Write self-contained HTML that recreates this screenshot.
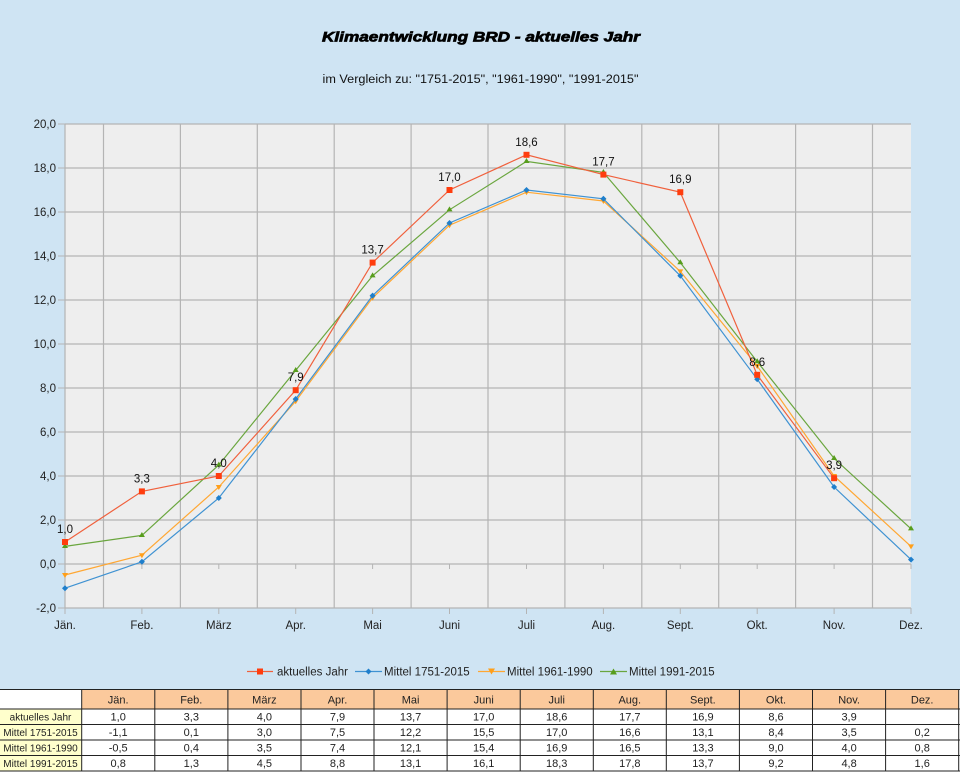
<!DOCTYPE html>
<html><head><meta charset="utf-8"><style>
html,body{margin:0;padding:0;background:#cfe4f3;}
svg{display:block;font-family:"Liberation Sans",Arial,sans-serif;}
</style></head><body>
<svg width="960" height="772" viewBox="0 0 960 772" xmlns="http://www.w3.org/2000/svg">
<rect x="0" y="0" width="960" height="772" fill="#cfe4f3"/>
<text x="481" y="41.5" font-size="13.5" font-weight="bold" font-style="italic" text-anchor="middle" textLength="318" lengthAdjust="spacingAndGlyphs" fill="#000" stroke="#000" stroke-width="0.7">Klimaentwicklung BRD - aktuelles Jahr</text>
<text x="480.5" y="83" font-size="11.5" text-anchor="middle" textLength="316" lengthAdjust="spacingAndGlyphs" fill="#111">im Vergleich zu: "1751-2015", "1961-1990", "1991-2015"</text>
<rect x="65" y="124" width="846" height="484" fill="#eeeeee"/>
<g stroke="#b4b4b4" stroke-width="1.2">
<line x1="65" y1="124" x2="911" y2="124"/><line x1="65" y1="168" x2="911" y2="168"/><line x1="65" y1="212" x2="911" y2="212"/><line x1="65" y1="256" x2="911" y2="256"/><line x1="65" y1="300" x2="911" y2="300"/><line x1="65" y1="344" x2="911" y2="344"/><line x1="65" y1="388" x2="911" y2="388"/><line x1="65" y1="432" x2="911" y2="432"/><line x1="65" y1="476" x2="911" y2="476"/><line x1="65" y1="520" x2="911" y2="520"/><line x1="65" y1="564" x2="911" y2="564"/><line x1="65" y1="608" x2="911" y2="608"/>
<line x1="103.5" y1="124" x2="103.5" y2="608"/><line x1="180.4" y1="124" x2="180.4" y2="608"/><line x1="257.3" y1="124" x2="257.3" y2="608"/><line x1="334.2" y1="124" x2="334.2" y2="608"/><line x1="411.1" y1="124" x2="411.1" y2="608"/><line x1="488" y1="124" x2="488" y2="608"/><line x1="564.9" y1="124" x2="564.9" y2="608"/><line x1="641.8" y1="124" x2="641.8" y2="608"/><line x1="718.7" y1="124" x2="718.7" y2="608"/><line x1="795.6" y1="124" x2="795.6" y2="608"/><line x1="872.5" y1="124" x2="872.5" y2="608"/>
<line x1="65" y1="124" x2="65" y2="608"/>
</g>
<g stroke="#b4b4b4" stroke-width="1">
<line x1="58" y1="124" x2="65" y2="124"/><line x1="58" y1="168" x2="65" y2="168"/><line x1="58" y1="212" x2="65" y2="212"/><line x1="58" y1="256" x2="65" y2="256"/><line x1="58" y1="300" x2="65" y2="300"/><line x1="58" y1="344" x2="65" y2="344"/><line x1="58" y1="388" x2="65" y2="388"/><line x1="58" y1="432" x2="65" y2="432"/><line x1="58" y1="476" x2="65" y2="476"/><line x1="58" y1="520" x2="65" y2="520"/><line x1="58" y1="564" x2="65" y2="564"/><line x1="58" y1="608" x2="65" y2="608"/>
<line x1="65" y1="608" x2="65" y2="614"/><line x1="141.9" y1="608" x2="141.9" y2="614"/><line x1="218.8" y1="608" x2="218.8" y2="614"/><line x1="295.7" y1="608" x2="295.7" y2="614"/><line x1="372.6" y1="608" x2="372.6" y2="614"/><line x1="449.5" y1="608" x2="449.5" y2="614"/><line x1="526.5" y1="608" x2="526.5" y2="614"/><line x1="603.4" y1="608" x2="603.4" y2="614"/><line x1="680.3" y1="608" x2="680.3" y2="614"/><line x1="757.2" y1="608" x2="757.2" y2="614"/><line x1="834.1" y1="608" x2="834.1" y2="614"/><line x1="911" y1="608" x2="911" y2="614"/>
<line x1="141.9" y1="564" x2="141.9" y2="569"/><line x1="218.8" y1="564" x2="218.8" y2="569"/><line x1="295.7" y1="564" x2="295.7" y2="569"/><line x1="372.6" y1="564" x2="372.6" y2="569"/><line x1="449.5" y1="564" x2="449.5" y2="569"/><line x1="526.5" y1="564" x2="526.5" y2="569"/><line x1="603.4" y1="564" x2="603.4" y2="569"/><line x1="680.3" y1="564" x2="680.3" y2="569"/><line x1="757.2" y1="564" x2="757.2" y2="569"/><line x1="834.1" y1="564" x2="834.1" y2="569"/><line x1="911" y1="564" x2="911" y2="569"/>
</g>
<g font-size="11.5" fill="#222" text-anchor="end">
<text x="56" y="128">20,0</text><text x="56" y="172">18,0</text><text x="56" y="216">16,0</text><text x="56" y="260">14,0</text><text x="56" y="304">12,0</text><text x="56" y="348">10,0</text><text x="56" y="392">8,0</text><text x="56" y="436">6,0</text><text x="56" y="480">4,0</text><text x="56" y="524">2,0</text><text x="56" y="568">0,0</text><text x="56" y="612">-2,0</text>
</g>
<g font-size="11.5" fill="#222" text-anchor="middle">
<text x="65" y="629">Jän.</text><text x="141.9" y="629">Feb.</text><text x="218.8" y="629">März</text><text x="295.7" y="629">Apr.</text><text x="372.6" y="629">Mai</text><text x="449.5" y="629">Juni</text><text x="526.5" y="629">Juli</text><text x="603.4" y="629">Aug.</text><text x="680.3" y="629">Sept.</text><text x="757.2" y="629">Okt.</text><text x="834.1" y="629">Nov.</text><text x="911" y="629">Dez.</text>
</g>
<polyline fill="none" stroke="#6aa63e" stroke-width="1.2" points="65,546.4 141.9,535.4 218.8,465 295.7,370.4 372.6,275.8 449.5,209.8 526.5,161.4 603.4,172.4 680.3,262.6 757.2,361.6 834.1,458.4 911,528.8"/>
<g fill="#579d1c">
<path d="M65,543 l3,5 h-6z"/><path d="M141.9,532 l3,5 h-6z"/><path d="M218.8,461.6 l3,5 h-6z"/><path d="M295.7,367 l3,5 h-6z"/><path d="M372.6,272.4 l3,5 h-6z"/><path d="M449.5,206.4 l3,5 h-6z"/><path d="M526.5,158 l3,5 h-6z"/><path d="M603.4,169 l3,5 h-6z"/><path d="M680.3,259.2 l3,5 h-6z"/><path d="M757.2,358.2 l3,5 h-6z"/><path d="M834.1,455 l3,5 h-6z"/><path d="M911,525.4 l3,5 h-6z"/>
</g>
<polyline fill="none" stroke="#ffa733" stroke-width="1.2" points="65,575 141.9,555.2 218.8,487 295.7,401.2 372.6,297.8 449.5,225.2 526.5,192.2 603.4,201 680.3,271.4 757.2,366 834.1,476 911,546.4"/>
<g fill="#ff9f1a">
<path d="M65,578 l3,-5 h-6z"/><path d="M141.9,558.2 l3,-5 h-6z"/><path d="M218.8,490 l3,-5 h-6z"/><path d="M295.7,404.2 l3,-5 h-6z"/><path d="M372.6,300.8 l3,-5 h-6z"/><path d="M449.5,228.2 l3,-5 h-6z"/><path d="M526.5,195.2 l3,-5 h-6z"/><path d="M603.4,204 l3,-5 h-6z"/><path d="M680.3,274.4 l3,-5 h-6z"/><path d="M757.2,369 l3,-5 h-6z"/><path d="M834.1,479 l3,-5 h-6z"/><path d="M911,549.4 l3,-5 h-6z"/>
</g>
<polyline fill="none" stroke="#3f92d2" stroke-width="1.2" points="65,588.2 141.9,561.8 218.8,498 295.7,399 372.6,295.6 449.5,223 526.5,190 603.4,198.8 680.3,275.8 757.2,379.2 834.1,487 911,559.6"/>
<g fill="#1f7fcc">
<path d="M65,585.2 l3,3 -3,3 -3,-3z"/><path d="M141.9,558.8 l3,3 -3,3 -3,-3z"/><path d="M218.8,495 l3,3 -3,3 -3,-3z"/><path d="M295.7,396 l3,3 -3,3 -3,-3z"/><path d="M372.6,292.6 l3,3 -3,3 -3,-3z"/><path d="M449.5,220 l3,3 -3,3 -3,-3z"/><path d="M526.5,187 l3,3 -3,3 -3,-3z"/><path d="M603.4,195.8 l3,3 -3,3 -3,-3z"/><path d="M680.3,272.8 l3,3 -3,3 -3,-3z"/><path d="M757.2,376.2 l3,3 -3,3 -3,-3z"/><path d="M834.1,484 l3,3 -3,3 -3,-3z"/><path d="M911,556.6 l3,3 -3,3 -3,-3z"/>
</g>
<polyline fill="none" stroke="#f0603c" stroke-width="1.2" points="65,542 141.9,491.4 218.8,476 295.7,390.2 372.6,262.6 449.5,190 526.5,154.8 603.4,174.6 680.3,192.2 757.2,374.8 834.1,478.2"/>
<g fill="#ff3d0e">
<rect x="62" y="539" width="6" height="6"/><rect x="138.9" y="488.4" width="6" height="6"/><rect x="215.8" y="473" width="6" height="6"/><rect x="292.7" y="387.2" width="6" height="6"/><rect x="369.6" y="259.6" width="6" height="6"/><rect x="446.5" y="187" width="6" height="6"/><rect x="523.5" y="151.8" width="6" height="6"/><rect x="600.4" y="171.6" width="6" height="6"/><rect x="677.3" y="189.2" width="6" height="6"/><rect x="754.2" y="371.8" width="6" height="6"/><rect x="831.1" y="475.2" width="6" height="6"/>
</g>
<g font-size="11.5" fill="#111" text-anchor="middle">
<text x="65" y="533">1,0</text><text x="141.9" y="482.4">3,3</text><text x="218.8" y="467">4,0</text><text x="295.7" y="381.2">7,9</text><text x="372.6" y="253.6">13,7</text><text x="449.5" y="181">17,0</text><text x="526.5" y="145.8">18,6</text><text x="603.4" y="165.6">17,7</text><text x="680.3" y="183.2">16,9</text><text x="757.2" y="365.8">8,6</text><text x="834.1" y="469.2">3,9</text>
</g>
<g font-size="11.5" fill="#222">
<line x1="247" y1="671.5" x2="273" y2="671.5" stroke="#f0603c" stroke-width="1.2"/><rect x="257" y="668.5" width="6" height="6" fill="#ff3d0e"/>
<text x="277" y="675.5">aktuelles Jahr</text>
<line x1="355" y1="671.5" x2="382" y2="671.5" stroke="#3f92d2" stroke-width="1.2"/><path d="M368.5,668.5 l3,3 -3,3 -3,-3z" fill="#1f7fcc"/>
<text x="384" y="675.5">Mittel 1751-2015</text>
<line x1="478" y1="671.5" x2="505" y2="671.5" stroke="#ffa733" stroke-width="1.2"/><path d="M491.5,674.5 l3.5,-6 h-7z" fill="#ff9f1a"/>
<text x="507" y="675.5">Mittel 1961-1990</text>
<line x1="600" y1="671.5" x2="627" y2="671.5" stroke="#6aa63e" stroke-width="1.2"/><path d="M613.5,668.5 l3.5,6 h-7z" fill="#579d1c"/>
<text x="629" y="675.5">Mittel 1991-2015</text>
</g>
<rect x="0" y="689" width="960" height="83" fill="#ffffff"/>
<rect x="81.7" y="690" width="877" height="19" fill="#fbc99c"/>
<rect x="0" y="709" width="81.7" height="62" fill="#ffffcc"/>
<g stroke="#222" stroke-width="1">
<line x1="0" y1="689.5" x2="960" y2="689.5"/>
<line x1="0" y1="709" x2="960" y2="709"/>
<line x1="0" y1="724.5" x2="960" y2="724.5"/>
<line x1="0" y1="740" x2="960" y2="740"/>
<line x1="0" y1="755.5" x2="960" y2="755.5"/>
<line x1="0" y1="771" x2="960" y2="771"/>
<line x1="81.7" y1="689" x2="81.7" y2="771"/><line x1="154.8" y1="689" x2="154.8" y2="771"/><line x1="227.9" y1="689" x2="227.9" y2="771"/><line x1="301" y1="689" x2="301" y2="771"/><line x1="374" y1="689" x2="374" y2="771"/><line x1="447.1" y1="689" x2="447.1" y2="771"/><line x1="520.2" y1="689" x2="520.2" y2="771"/><line x1="593.3" y1="689" x2="593.3" y2="771"/><line x1="666.3" y1="689" x2="666.3" y2="771"/><line x1="739.4" y1="689" x2="739.4" y2="771"/><line x1="812.5" y1="689" x2="812.5" y2="771"/><line x1="885.6" y1="689" x2="885.6" y2="771"/><line x1="958.7" y1="689" x2="958.7" y2="771"/>
</g>
<g font-size="11" fill="#222" text-anchor="middle">
<text x="118.2" y="703.5">Jän.</text><text x="191.3" y="703.5">Feb.</text><text x="264.4" y="703.5">März</text><text x="337.5" y="703.5">Apr.</text><text x="410.6" y="703.5">Mai</text><text x="483.7" y="703.5">Juni</text><text x="556.7" y="703.5">Juli</text><text x="629.8" y="703.5">Aug.</text><text x="702.9" y="703.5">Sept.</text><text x="776" y="703.5">Okt.</text><text x="849.1" y="703.5">Nov.</text><text x="922.2" y="703.5">Dez.</text>
<text x="118.2" y="720.5">1,0</text><text x="191.3" y="720.5">3,3</text><text x="264.4" y="720.5">4,0</text><text x="337.5" y="720.5">7,9</text><text x="410.6" y="720.5">13,7</text><text x="483.7" y="720.5">17,0</text><text x="556.7" y="720.5">18,6</text><text x="629.8" y="720.5">17,7</text><text x="702.9" y="720.5">16,9</text><text x="776" y="720.5">8,6</text><text x="849.1" y="720.5">3,9</text>
<text x="118.2" y="736">-1,1</text><text x="191.3" y="736">0,1</text><text x="264.4" y="736">3,0</text><text x="337.5" y="736">7,5</text><text x="410.6" y="736">12,2</text><text x="483.7" y="736">15,5</text><text x="556.7" y="736">17,0</text><text x="629.8" y="736">16,6</text><text x="702.9" y="736">13,1</text><text x="776" y="736">8,4</text><text x="849.1" y="736">3,5</text><text x="922.2" y="736">0,2</text>
<text x="118.2" y="751.5">-0,5</text><text x="191.3" y="751.5">0,4</text><text x="264.4" y="751.5">3,5</text><text x="337.5" y="751.5">7,4</text><text x="410.6" y="751.5">12,1</text><text x="483.7" y="751.5">15,4</text><text x="556.7" y="751.5">16,9</text><text x="629.8" y="751.5">16,5</text><text x="702.9" y="751.5">13,3</text><text x="776" y="751.5">9,0</text><text x="849.1" y="751.5">4,0</text><text x="922.2" y="751.5">0,8</text>
<text x="118.2" y="767">0,8</text><text x="191.3" y="767">1,3</text><text x="264.4" y="767">4,5</text><text x="337.5" y="767">8,8</text><text x="410.6" y="767">13,1</text><text x="483.7" y="767">16,1</text><text x="556.7" y="767">18,3</text><text x="629.8" y="767">17,8</text><text x="702.9" y="767">13,7</text><text x="776" y="767">9,2</text><text x="849.1" y="767">4,8</text><text x="922.2" y="767">1,6</text>
</g>
<g font-size="10" fill="#222" text-anchor="middle">
<text x="40.5" y="720.5">aktuelles Jahr</text>
<text x="40.5" y="736">Mittel 1751-2015</text>
<text x="40.5" y="751.5">Mittel 1961-1990</text>
<text x="40.5" y="767">Mittel 1991-2015</text>
</g>
</svg>
</body></html>
